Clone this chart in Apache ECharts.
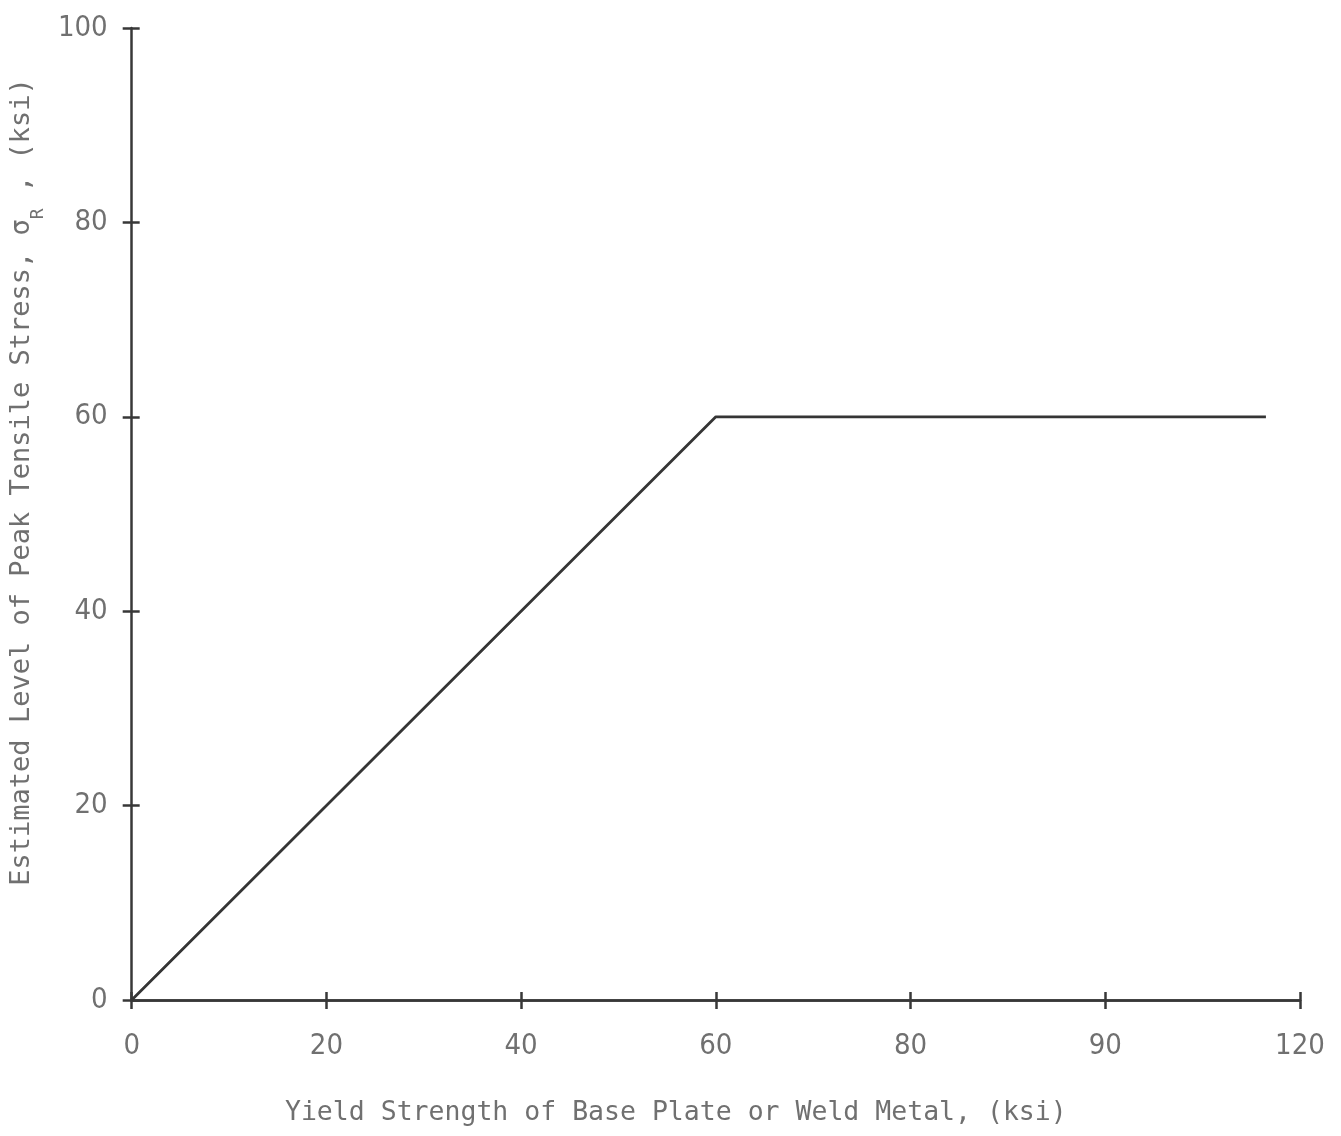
<!DOCTYPE html>
<html>
<head>
<meta charset="utf-8">
<script src="https://cdn.jsdelivr.net/npm/echarts@6/dist/echarts.min.js"></script>
<style>html,body{margin:0;padding:0;background:#fff}#c{width:1341px;height:1136px}</style>
</head>
<body>
<div id="c"></div>
<script>
// Data
var lineX = [0, 60, 116.5];
var lineY = [0, 60, 60];
var xTickValues = [0, 20, 40, 60, 80, 100, 120];
var xTickLabels = ['0', '20', '40', '60', '80', '90', '120'];
var yTickValues = [0, 20, 40, 60, 80, 100];
var xName = 'Yield Strength of Base Plate or Weld Metal, (ksi)';

var FONT = '"DejaVu Sans Mono", "Liberation Mono", monospace';
var NUMFONT = '"Liberation Sans Narrow", "DejaVu Sans Condensed", "DejaVu Sans", sans-serif';
var TXT = '#707070';
var AX = '#383838';

var pts = lineX.map(function (x, i) { return [x, lineY[i]]; });
var xLabelMap = {};
xTickValues.forEach(function (v, i) { xLabelMap[v] = xTickLabels[i]; });

var chart = echarts.init(document.getElementById('c'), null, {renderer: 'canvas'});
var baseX = {
  type: 'value', min: 0, max: 120, interval: 20, position: 'bottom',
  splitLine: {show: false},
  axisLine: {show: true, onZero: false, lineStyle: {color: AX, width: 2.5}}
};
chart.setOption({
  animation: false,
  backgroundColor: '#fff',
  grid: {left: 127, right: 41, top: 28, bottom: 136, containLabel: false},
  xAxis: [
    Object.assign({}, baseX, {
      axisTick: {show: true, inside: false, length: 9, lineStyle: {color: AX, width: 2.5}},
      axisLabel: {
        color: TXT, fontFamily: NUMFONT, fontSize: 29, margin: 32,
        formatter: function (v) { return xLabelMap[v] !== undefined ? xLabelMap[v] : ''; }
      },
      name: xName, nameLocation: 'middle', nameGap: 100,
      nameTextStyle: {color: TXT, fontFamily: FONT, fontSize: 26.5, padding: [0, 80, 0, 0]}
    }),
    Object.assign({}, baseX, {
      axisTick: {show: true, inside: true, length: 8, lineStyle: {color: AX, width: 2.5}},
      axisLabel: {show: false}
    })
  ],
  yAxis: [
    {
      type: 'value', min: 0, max: 100, interval: 20, position: 'left',
      splitLine: {show: false},
      axisLine: {show: true, onZero: false, lineStyle: {color: AX, width: 2.5}},
      axisTick: {show: true, inside: false, length: 9, lineStyle: {color: AX, width: 2.5},
        interval: function (i, v) { return v > 0 && v < 100; }},
      axisLabel: {color: TXT, fontFamily: NUMFONT, fontSize: 29, margin: 24},
      name: '{n|Estimated Level of Peak Tensile Stress, σ}{s|R}{n| , (ksi)}',
      nameLocation: 'middle', nameGap: 92, nameRotate: 90,
      nameTextStyle: {
        color: TXT, fontFamily: FONT, fontSize: 27, padding: [0, 0, 0, 64],
        rich: {
          n: {color: TXT, fontFamily: FONT, fontSize: 27},
          s: {color: TXT, fontFamily: FONT, fontSize: 18, verticalAlign: 'bottom', padding: [0, 0, -12, 0]}
        }
      }
    },
    {
      type: 'value', min: 0, max: 100, interval: 20, position: 'left',
      splitLine: {show: false},
      axisLine: {show: false},
      axisTick: {show: true, inside: true, length: 8, lineStyle: {color: AX, width: 2.5},
        interval: function (i, v) { return v > 0 && v < 100; }},
      axisLabel: {show: false}
    }
  ],
  series: [{
    type: 'line', xAxisIndex: 0, yAxisIndex: 0,
    data: pts, showSymbol: false, symbol: 'none',
    lineStyle: {color: '#353535', width: 2.8}
  }]
});
</script>
</body>
</html>
